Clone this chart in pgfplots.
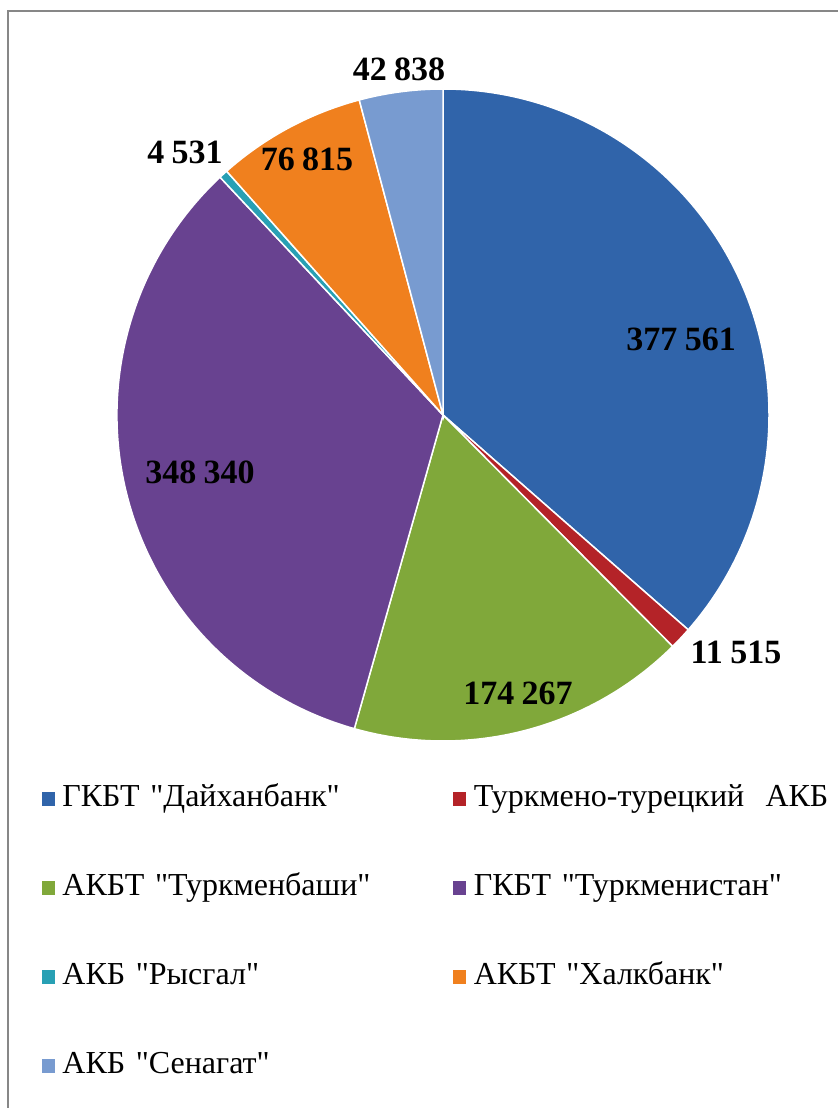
\documentclass[border=0pt]{standalone}
\usepackage{pgfplots}
\usepackage{pgfplotstable}
\pgfplotsset{compat=1.18}
\usepackage{fontspec}
\setmainfont{Liberation Serif}[Ligatures=TeXOff]

\definecolor{cA}{RGB}{48,100,170}
\definecolor{cB}{RGB}{180,35,40}
\definecolor{cC}{RGB}{128,168,58}
\definecolor{cD}{RGB}{104,66,144}
\definecolor{cE}{RGB}{40,160,180}
\definecolor{cF}{RGB}{240,128,30}
\definecolor{cG}{RGB}{120,155,208}
\definecolor{frame}{RGB}{135,135,135}

\pgfplotstableread{
idx value
0 377561
1 11515
2 174267
3 348340
4 4531
5 76815
6 42838
}\datatable

\newcommand\lbl[1]{{\fontsize{34bp}{34bp}\selectfont\bfseries #1}}
\newcommand\gp{\hspace{0.22em}}

\begin{document}
\begin{tikzpicture}
\useasboundingbox (0,0) rectangle (838bp,1108bp);
\fill[white] (0,0) rectangle (838bp,1108bp);
\pgfplotstablegetelem{0}{value}\of\datatable \edef\vA{\pgfplotsretval}
\pgfplotstablegetelem{1}{value}\of\datatable \edef\vB{\pgfplotsretval}
\pgfplotstablegetelem{2}{value}\of\datatable \edef\vC{\pgfplotsretval}
\pgfplotstablegetelem{3}{value}\of\datatable \edef\vD{\pgfplotsretval}
\pgfplotstablegetelem{4}{value}\of\datatable \edef\vE{\pgfplotsretval}
\pgfplotstablegetelem{5}{value}\of\datatable \edef\vF{\pgfplotsretval}
\pgfplotstablegetelem{6}{value}\of\datatable \edef\vG{\pgfplotsretval}
\edef\total{\fpeval{\vA+\vB+\vC+\vD+\vE+\vF+\vG}}
\edef\sA{90}
\edef\sB{\fpeval{\sA-360*\vA/\total}}
\edef\sC{\fpeval{\sB-360*\vB/\total}}
\edef\sD{\fpeval{\sC-360*\vC/\total}}
\edef\sE{\fpeval{\sD-360*\vD/\total}}
\edef\sF{\fpeval{\sE-360*\vE/\total}}
\edef\sG{\fpeval{\sF-360*\vF/\total}}
\edef\sH{\fpeval{\sG-360*\vG/\total}}
\begin{axis}[
  at={(0,0)}, anchor=south west,
  scale only axis, width=838bp, height=1108bp,
  xmin=0, xmax=838, ymin=0, ymax=1108,
  hide axis, clip=false,
  legend columns=2,
  legend cell align=left,
  legend image code/.code={\fill[#1] (0bp,-6.5bp) rectangle (12bp,6.5bp);},
  legend style={
    at={(axis cs:42,1108-784)}, anchor=north west,
    draw=none, fill=none, inner sep=0pt, outer sep=0pt,
    font=\fontsize{32bp}{32bp}\selectfont,
    row sep=60bp,
    nodes={inner xsep=8bp, inner ysep=0pt, text height=22bp, text depth=7bp,
           text width=383bp, align=left},
  },
]
\def\cx{443}\def\cy{693}\def\R{326bp}
\fill[cA, draw=white, line width=1.5bp] (axis cs:\cx,\cy) -- +(\sA:\R) arc[start angle=\sA, end angle=\sB, radius=\R] -- cycle;
\fill[cB, draw=white, line width=1.5bp] (axis cs:\cx,\cy) -- +(\sB:\R) arc[start angle=\sB, end angle=\sC, radius=\R] -- cycle;
\fill[cC, draw=white, line width=1.5bp] (axis cs:\cx,\cy) -- +(\sC:\R) arc[start angle=\sC, end angle=\sD, radius=\R] -- cycle;
\fill[cD, draw=white, line width=1.5bp] (axis cs:\cx,\cy) -- +(\sD:\R) arc[start angle=\sD, end angle=\sE, radius=\R] -- cycle;
\fill[cE, draw=white, line width=1.5bp] (axis cs:\cx,\cy) -- +(\sE:\R) arc[start angle=\sE, end angle=\sF, radius=\R] -- cycle;
\fill[cF, draw=white, line width=1.5bp] (axis cs:\cx,\cy) -- +(\sF:\R) arc[start angle=\sF, end angle=\sG, radius=\R] -- cycle;
\fill[cG, draw=white, line width=1.5bp] (axis cs:\cx,\cy) -- +(\sG:\R) arc[start angle=\sG, end angle=\sH, radius=\R] -- cycle;

\node at (axis cs:681,1108-339) {\lbl{377\gp561}};
\node at (axis cs:736,1108-652) {\lbl{11\gp515}};
\node at (axis cs:518,1108-693) {\lbl{174\gp267}};
\node at (axis cs:200,1108-472) {\lbl{348\gp340}};
\node at (axis cs:185,1108-152) {\lbl{4\gp531}};
\node at (axis cs:307,1108-159) {\lbl{76\gp815}};
\node at (axis cs:399,1108-69) {\lbl{42\gp838}};

\draw[frame, line width=2bp] (axis cs:7.5,0) -- (axis cs:7.5,1097) -- (axis cs:838,1097);

\addlegendimage{cA}\addlegendentry{ГКБТ "Дайханбанк"}
\addlegendimage{cB}\addlegendentry{Туркмено-турецкий\ \ АКБ}
\addlegendimage{cC}\addlegendentry{АКБТ "Туркменбаши"}
\addlegendimage{cD}\addlegendentry{ГКБТ "Туркменистан"}
\addlegendimage{cE}\addlegendentry{АКБ "Рысгал"}
\addlegendimage{cF}\addlegendentry{АКБТ "Халкбанк"}
\addlegendimage{cG}\addlegendentry{АКБ "Сенагат"}
\end{axis}
\end{tikzpicture}
\end{document}
